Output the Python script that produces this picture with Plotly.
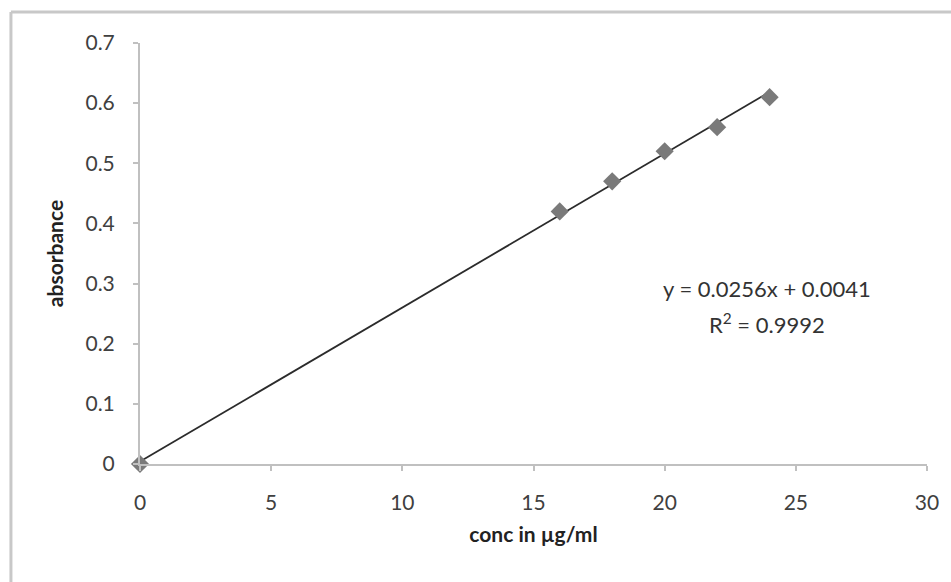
import plotly.graph_objects as go

conc = [0, 16, 18, 20, 22, 24]
absorbance = [0.0, 0.42, 0.47, 0.52, 0.56, 0.61]
slope = 0.0256
intercept = 0.0041
r2 = 0.9992
trend_x = [0, 24]
trend_y = [slope * x + intercept for x in trend_x]
x_ticks = [0, 5, 10, 15, 20, 25, 30]
y_ticks = [0, 0.1, 0.2, 0.3, 0.4, 0.5, 0.6, 0.7]
y_tick_text = ["0", "0.1", "0.2", "0.3", "0.4", "0.5", "0.6", "0.7"]

FONT = "Lato, Open Sans, sans-serif"

fig = go.Figure()
fig.add_trace(go.Scatter(x=trend_x, y=trend_y, mode="lines",
                         line=dict(color="#2b2b2b", width=1.8),
                         showlegend=False, cliponaxis=False))
fig.add_trace(go.Scatter(x=conc, y=absorbance, mode="markers",
                         marker=dict(symbol="diamond", size=14, color="#7a7a7a",
                                     line=dict(width=0)),
                         showlegend=False, cliponaxis=False))

fig.add_annotation(x=23.9, y=0.291, xref="x", yref="y",
                   text=f"y = {slope}x + {intercept}", showarrow=False,
                   font=dict(family=FONT, size=22, color="#333"))
fig.add_annotation(x=23.9, y=0.234, xref="x", yref="y",
                   text=f"R<sup>2</sup> = {r2}", showarrow=False,
                   font=dict(family=FONT, size=22, color="#333"))

# outer chart border (top and left visible)
fig.add_shape(type="line", xref="paper", yref="paper",
              x0=-0.164, x1=1.1, y0=1.0736, y1=1.0736,
              line=dict(color="#c8c8c8", width=3))
fig.add_shape(type="line", xref="paper", yref="paper",
              x0=-0.164, x1=-0.164, y0=1.0736, y1=-0.3,
              line=dict(color="#c8c8c8", width=3))

fig.update_layout(
    width=951, height=582,
    margin=dict(l=140, r=19, t=43, b=118),
    paper_bgcolor="white", plot_bgcolor="white",
    font=dict(family=FONT, size=21, color="#404040"),
    xaxis=dict(range=[0, 30], tickvals=x_ticks, showgrid=False, zeroline=False,
               showline=True, linecolor="#c0c0c0", linewidth=2,
               ticks="outside", ticklen=5, tickcolor="#c0c0c0", tickwidth=2,
               ticklabelstandoff=14,
               tickfont=dict(family=FONT, size=21, color="#404040"),
               title=dict(text="<b>conc in µg/ml</b>", standoff=14,
                          font=dict(family=FONT, size=21, color="#222"))),
    yaxis=dict(range=[0, 0.7], tickvals=y_ticks, ticktext=y_tick_text,
               showgrid=False, zeroline=False,
               showline=True, linecolor="#c0c0c0", linewidth=2,
               ticks="outside", ticklen=5, tickcolor="#c0c0c0", tickwidth=2,
               ticklabelstandoff=14,
               tickfont=dict(family=FONT, size=21, color="#404040"),
               title=dict(text="<b>absorbance</b>", standoff=16,
                          font=dict(family=FONT, size=21, color="#222"))),
)

fig.write_html("out.html")
